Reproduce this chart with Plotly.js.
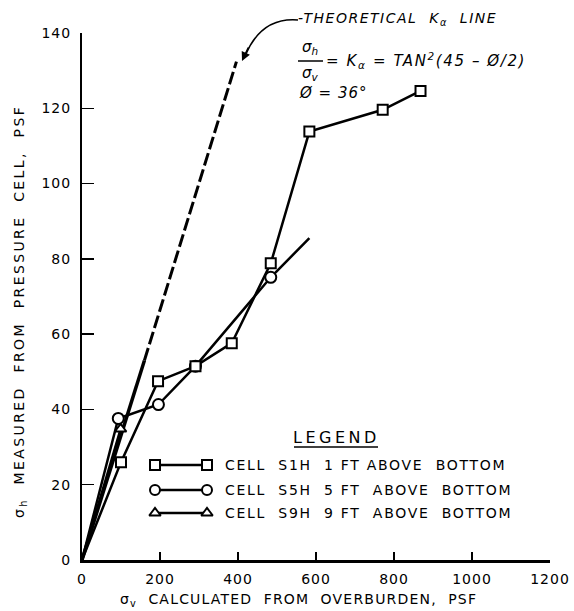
<!DOCTYPE html>
<html>
<head>
<meta charset="utf-8">
<script src="https://cdn.plot.ly/plotly-3.0.1.min.js"></script>
<style>html,body{margin:0;padding:0;background:#fff;}#chart{width:574px;height:611px;}</style>
</head>
<body>
<div id="chart"></div>
<script>
// ---- data ----
const s1hX = [0, 100, 195, 291, 384, 484, 583, 771, 868];
const s1hY = [0, 26, 47.5, 51.5, 57.6, 78.8, 113.8, 119.6, 124.6];
const s5hX = [0, 93, 196, 291, 484, 583];
const s5hY = [0, 37.6, 41.3, 51.5, 75.1, 85.5];
const s9hX = [0, 99];
const s9hY = [0, 34.8];
const theoX = [0, 160, 396];
const theoY = [0, 53, 132.4];
const xTicks = [0, 200, 400, 600, 800, 1000, 1200];
const yTicks = [0, 20, 40, 60, 80, 100, 120, 140];
const legendLabels = [
  'CELL\u00A0\u00A0S1H\u00A0\u00A01\u00A0FT\u00A0ABOVE\u00A0\u00A0BOTTOM',
  'CELL\u00A0\u00A0S5H\u00A0\u00A05\u00A0FT\u00A0\u00A0ABOVE\u00A0\u00A0BOTTOM',
  'CELL\u00A0\u00A0S9H\u00A0\u00A09\u00A0FT\u00A0\u00A0ABOVE\u00A0\u00A0BOTTOM'
];

// ---- geometry helpers (pixel -> paper) ----
const L = 82, R = 24, T = 33, B = 51, W = 574, H = 611;
const PW = W - L - R, PH = H - T - B;
const px = x => (x - L) / PW;
const py = y => (H - B - y) / PH;
const sp = (t, ls) => `<span style="letter-spacing:${ls}px">${t}</span>`;

const FONT = 'DejaVu Sans, Arial, sans-serif';
const black = '#000';

const lineStyle = {color: black, width: 2.5};
const mk = sym => ({symbol: sym, size: 10, color: '#fff', opacity: 1, line: {color: black, width: 2}});

const traces = [
  {x: theoX.slice(0, 2), y: theoY.slice(0, 2), mode: 'lines', line: {color: black, width: 3.5}},
  {x: theoX.slice(1), y: theoY.slice(1), mode: 'lines', line: {color: black, width: 3, dash: '13px,4px'}},
  {x: s9hX, y: s9hY, mode: 'lines', line: lineStyle},
  {x: s5hX, y: s5hY, mode: 'lines', line: lineStyle},
  {x: s1hX, y: s1hY, mode: 'lines', line: lineStyle},
  {x: s9hX.slice(1), y: s9hY.slice(1), mode: 'markers', marker: mk('triangle-up')},
  {x: s5hX.slice(1, -1), y: s5hY.slice(1, -1), mode: 'markers', marker: Object.assign(mk('circle'), {size: 11})},
  {x: s1hX.slice(1), y: s1hY.slice(1), mode: 'markers', marker: mk('square')}
];

// legend samples (drawn on an overlay axis in paper units)
const legRows = [465, 490, 513];
const legSyms = ['square', 'circle', 'triangle-up'];
legRows.forEach((r, i) => {
  traces.push({x: [px(155), px(207)], y: [py(r), py(r)], xaxis: 'x2', yaxis: 'y2',
    mode: 'lines+markers', line: lineStyle, marker: mk(legSyms[i])});
});

function ann(x, y, text, font, extra) {
  return Object.assign({xref: 'paper', yref: 'paper', x: px(x), y: py(y), xanchor: 'center', yanchor: 'middle',
    showarrow: false, text: text, font: Object.assign({family: FONT, size: 14, color: black}, font)}, extra || {});
}

const annotations = [
  ann(20, 312, sp('\u03C3<sub>h</sub>\u00A0\u00A0MEASURED\u00A0\u00A0FROM\u00A0\u00A0PRESSURE\u00A0\u00A0CELL,\u00A0\u00A0PSF', 2.4), {}, {textangle: -90}),
  ann(298, 600, sp('\u03C3<sub>v</sub>\u00A0\u00A0CALCULATED\u00A0\u00A0FROM\u00A0\u00A0OVERBURDEN,\u00A0\u00A0PSF', 1.2), {}),
  ann(296, 19, sp('-THEORETICAL\u00A0\u00A0K<sub>\u03B1</sub>\u00A0\u00A0LINE', 1.5), {style: 'italic'}, {xanchor: 'left'}),
  ann(310, 47, '\u03C3<sub>h</sub>', {size: 15, style: 'italic'}),
  ann(310, 73, '\u03C3<sub>v</sub>', {size: 15, style: 'italic'}),
  ann(324, 61, sp('= K<sub>\u03B1</sub> = TAN<sup>2</sup>(45 \u2013 \u00D8/2)', 1.6), {size: 15, style: 'italic'}, {xanchor: 'left'}),
  ann(297, 93, sp('\u00D8 = 36\u00B0', 1), {size: 15, style: 'italic'}, {xanchor: 'left'}),
  ann(336, 437, sp('LEGEND', 3.5), {size: 16}),
  // arrowhead of the curved pointer
  {xref: 'paper', yref: 'paper', x: px(242), y: py(61), ax: 7, ay: -15, text: '', showarrow: true,
   arrowhead: 2, arrowsize: 1.2, arrowwidth: 1.5, arrowcolor: black, standoff: 0}
];
legendLabels.forEach((t, i) => {
  annotations.push(ann(223, legRows[i], sp(t, 1.7), {size: 14}, {xanchor: 'left'}));
});

const shapes = [
  {type: 'path', xref: 'paper', yref: 'paper', line: {color: black, width: 1.5},
   path: `M ${px(298)} ${py(20)} Q ${px(262)} ${py(17)} ${px(246)} ${py(54)}`},
  {type: 'line', xref: 'paper', yref: 'paper', x0: px(298), x1: px(323), y0: py(61), y1: py(61), line: {color: black, width: 1.5}},
  {type: 'line', xref: 'paper', yref: 'paper', x0: px(294), x1: px(378), y0: py(447), y1: py(447), line: {color: black, width: 1.5}}
];

const layout = {
  width: W, height: H,
  margin: {l: L, r: R, t: T, b: B, pad: 0},
  paper_bgcolor: '#fff', plot_bgcolor: '#fff',
  showlegend: false,
  hovermode: false,
  font: {family: FONT, size: 14, color: black},
  xaxis: {range: [0, 1200], tickvals: xTicks, ticktext: xTicks.map(v => sp(String(v), 1)), ticks: 'inside', ticklen: 8, tickwidth: 1.5,
          tickcolor: black, showline: true, linewidth: 2.5, linecolor: black, showgrid: false, zeroline: false,
          ticklabelstandoff: 5, tickfont: {family: FONT, size: 14, color: black}},
  yaxis: {range: [0, 140], tickvals: yTicks, ticktext: yTicks.map(v => sp(String(v), 1)), ticks: 'inside', ticklen: 12, tickwidth: 1.5,
          tickcolor: black, showline: true, linewidth: 2, linecolor: black, showgrid: false, zeroline: false,
          ticklabelstandoff: 6, tickfont: {family: FONT, size: 14, color: black}},
  xaxis2: {overlaying: 'x', range: [0, 1], visible: false, fixedrange: true},
  yaxis2: {overlaying: 'y', range: [0, 1], visible: false, fixedrange: true},
  annotations: annotations,
  shapes: shapes
};

Plotly.newPlot('chart', traces, layout, {staticPlot: true, displayModeBar: false});
</script>
</body>
</html>
